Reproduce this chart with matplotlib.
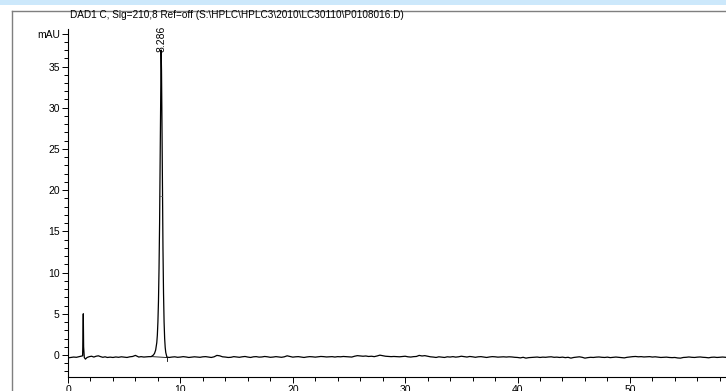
import numpy as np
import matplotlib.pyplot as plt
from matplotlib.lines import Line2D
from matplotlib.patches import Rectangle
from matplotlib.ticker import MultipleLocator

plt.rcParams['font.family'] = ['Liberation Sans', 'DejaVu Sans']

title = r'DAD1 C, Sig=210,8 Ref=off (S:\HPLC\HPLC3\2010\LC30110\P0108016.D)'
peak_rt = 8.286
peak_label = '8.286'

# start of the run, incl. the injection spike
t_start = [0.0, 0.25, 0.5, 0.75, 1.0, 1.15, 1.3, 1.33, 1.36, 1.39, 1.45, 1.55, 1.7,
           1.9, 2.1, 2.3, 2.5, 2.7, 2.9, 3.1, 3.3, 3.5, 3.75, 4.0, 4.25, 4.5, 4.75,
           5.0, 5.25, 5.5, 5.75, 6.0, 6.15, 6.3, 6.5, 6.75, 7.0, 7.2]
y_start = [-0.35, -0.30, -0.25, -0.28, -0.20, -0.15, -0.10, 2.0, 5.0, 1.0, -0.30, -0.50, -0.30,
           -0.20, -0.15, -0.25, -0.15, -0.10, -0.20, -0.28, -0.22, -0.30, -0.26, -0.30, -0.24, -0.28, -0.22,
           -0.26, -0.30, -0.22, -0.18, -0.05, -0.15, -0.25, -0.20, -0.25, -0.22, -0.20]

# main peak
t_peak = [7.4, 7.5, 7.6, 7.7, 7.8, 7.9, 7.95, 8.0, 8.05, 8.1, 8.15, 8.2, 8.25, 8.286,
          8.32, 8.35, 8.4, 8.45, 8.5, 8.55, 8.6, 8.65, 8.7, 8.8]
y_peak = [-0.2, -0.1, 0.0, 0.2, 0.6, 1.5, 2.4, 4.0, 6.5, 10.5, 16.0, 24.0, 32.5, 37.0,
          34.5, 30.0, 21.0, 13.0, 7.5, 4.0, 2.0, 0.9, 0.3, -0.25]

# rest of the baseline, sampled every 0.25 min from 9.0 min
y_tail = [
    -0.30, -0.25, -0.22, -0.28, -0.25, -0.20, -0.24, -0.30, -0.26, -0.22, -0.25, -0.28, -0.22, -0.20, -0.25, -0.30, -0.22, -0.05, -0.10, -0.22,
    -0.25, -0.30, -0.28, -0.20, -0.24, -0.28, -0.22, -0.18, -0.25, -0.30, -0.22, -0.20, -0.26, -0.24, -0.18, -0.22, -0.28, -0.25, -0.20, -0.24,
    -0.28, -0.22, -0.10, -0.18, -0.26, -0.22, -0.20, -0.25, -0.30, -0.24, -0.20, -0.22, -0.26, -0.22, -0.18, -0.20, -0.24, -0.22, -0.20, -0.25,
    -0.20, -0.22, -0.18, -0.20, -0.22, -0.25, -0.15, -0.08, -0.12, -0.15, -0.12, -0.18, -0.15, -0.20, -0.12, -0.02, -0.08, -0.15, -0.18, -0.20,
    -0.18, -0.20, -0.22, -0.18, -0.15, -0.22, -0.25, -0.20, -0.18, -0.05, -0.12, -0.08, -0.15, -0.22, -0.25, -0.30, -0.22, -0.26, -0.30, -0.22,
    -0.25, -0.20, -0.26, -0.22, -0.15, -0.20, -0.25, -0.18, -0.22, -0.28, -0.22, -0.20, -0.25, -0.30, -0.24, -0.20, -0.22, -0.26, -0.24, -0.22,
    -0.25, -0.22, -0.24, -0.28, -0.30, -0.35, -0.28, -0.38, -0.32, -0.30, -0.28, -0.25, -0.30, -0.26, -0.28, -0.24, -0.22, -0.28, -0.26, -0.30,
    -0.26, -0.32, -0.28, -0.38, -0.30, -0.26, -0.22, -0.28, -0.38, -0.32, -0.28, -0.30, -0.26, -0.24, -0.28, -0.30, -0.26, -0.32, -0.28, -0.25,
    -0.28, -0.30, -0.35, -0.28, -0.24, -0.20, -0.18, -0.22, -0.20, -0.24, -0.22, -0.20, -0.25, -0.22, -0.26, -0.30, -0.28, -0.26, -0.30, -0.32,
    -0.30, -0.36, -0.38, -0.30, -0.28, -0.24, -0.28, -0.30, -0.26, -0.24, -0.28, -0.30, -0.34, -0.28, -0.26, -0.30, -0.28, -0.25, -0.28]
t_tail = 9.0 + 0.25 * np.arange(len(y_tail))

# integration baseline under the peak
t_base = [7.45, 8.78]
y_base = [-0.2, -0.3]

t = np.concatenate([t_start, t_peak, t_tail])
y = np.concatenate([y_start, y_peak, y_tail])

W, H = 726, 391
fig = plt.figure(figsize=(W / 100, H / 100), dpi=100)

# light blue band and grey frame of the report page
fig.patches.append(Rectangle((0, 1 - 5 / H), 1, 5 / H, transform=fig.transFigure,
                             facecolor='#cce8fb', edgecolor='none'))
fig.add_artist(Line2D([12 / W, 1], [1 - 11 / H, 1 - 11 / H], transform=fig.transFigure,
                      color='#7f7f7f', lw=1))
fig.add_artist(Line2D([12 / W, 12 / W], [0, 1 - 11 / H], transform=fig.transFigure,
                      color='#7f7f7f', lw=1))

fig.text(70 / W, 1 - 15 / H, title, fontsize=7.2, va='center', ha='left')

# axes: x axis line at 377 px, top of y axis at 29 px
ax = fig.add_axes([68 / W, 14 / H, 1 - 68 / W, 348 / H])
ax.plot(t, y, color='black', lw=0.9)
ax.plot(t_base, y_base, color='black', lw=0.6)
ax.plot([t_base[1], t_base[1]], [y_base[1], -0.75], color='black', lw=0.6)
ax.plot([8.21, 8.37], [19.3, 19.3], color='#555555', lw=0.5)
ax.text(peak_rt, 36.8, peak_label, rotation=90, ha='center', va='bottom', fontsize=7.5)

ax.set_xlim(0, 58.55)
ax.set_ylim(-2.67, 39.55)
for s in ['top', 'right']:
    ax.spines[s].set_visible(False)
for s in ['left', 'bottom']:
    ax.spines[s].set_linewidth(0.8)

ax.set_xticks([0, 10, 20, 30, 40, 50])
ax.xaxis.set_minor_locator(MultipleLocator(2))
ax.set_yticks([0, 5, 10, 15, 20, 25, 30, 35, 39])
ax.set_yticklabels(['0', '5', '10', '15', '20', '25', '30', '35', 'mAU'])
ax.yaxis.set_minor_locator(MultipleLocator(1))
ax.tick_params(axis='both', which='major', length=4, width=0.7, labelsize=7.5, pad=2)
ax.tick_params(axis='both', which='minor', length=3, width=0.7)

fig.savefig('out.png', dpi=100)
